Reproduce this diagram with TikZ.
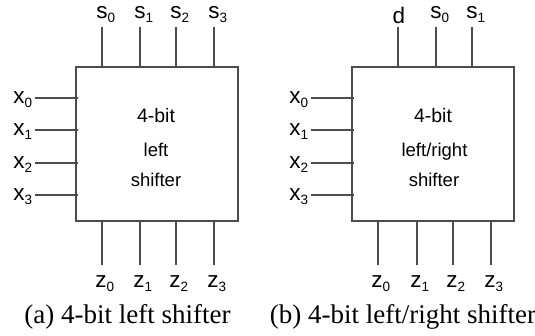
\documentclass[tikz,border=0pt]{standalone}
\usepackage{fontspec}
\setmainfont{Liberation Serif}
\newfontfamily\arialf{Liberation Sans}
\newcommand\sigl[2]{#1\rlap{\raisebox{-4pt}{\fontsize{13.5}{13.5}\selectfont #2}}}
\begin{document}
\begin{tikzpicture}[x=1pt,y=-1pt,
  wire/.style={draw=black!70,line width=1.1pt},
  blk/.style={draw=black!70,line width=1.1pt},
  lbl/.style={font=\arialf\fontsize{22.5}{22.5}\selectfont,inner sep=0pt,anchor=base},
  intext/.style={font=\arialf\fontsize{18.5}{18.5}\selectfont,inner sep=0pt,anchor=base},
  bigtext/.style={font=\arialf\fontsize{19.5}{19.5}\selectfont,inner sep=0pt,anchor=base},
  captext/.style={font=\fontsize{27}{27}\selectfont,inner sep=0pt,anchor=base}]
\useasboundingbox (0,0) rectangle (535,335);
% ---------- (a) ----------
\node[blk,minimum width=162pt,minimum height=154pt,inner sep=0pt] (A) at (157,144) {};
\node[bigtext] (A1) at (156,122.5) {4-bit};
\node[intext] (A2) at (156,156.5) {left};
\node[intext] (A3) at (156,186) {shifter};
\foreach \i/\xx in {0/102,1/140,2/176,3/214}{
  \coordinate (as\i) at (\xx,27);
  \coordinate (asb\i) at (\xx,67);
  \draw[wire] (as\i) -- (asb\i);
  \node[lbl] (asl\i) at (\xx,18) {\sigl{s}{\i}};
  \coordinate (az\i) at (\xx,265);
  \coordinate (azb\i) at (\xx,221);
  \draw[wire] (azb\i) -- (az\i);
  \node[lbl] (azl\i) at (\xx-1,287) {\sigl{z}{\i}};
}
\foreach \i/\yy in {0/98,1/130,2/163,3/195}{
  \coordinate (ax\i) at (35,\yy);
  \coordinate (axb\i) at (78,\yy);
  \draw[wire] (ax\i) -- (axb\i);
  \node[lbl] (axl\i) at (19,\yy+5.5) {\sigl{x}{\i}};
}
\node[captext] (capa) at (127.5,323) {(a) 4-bit left shifter};
% ---------- (b) ----------
\node[blk,minimum width=162pt,minimum height=154pt,inner sep=0pt] (B) at (433,144) {};
\node[bigtext] (B1) at (433,122.5) {4-bit};
\node[intext] (B2) at (434.5,156.5) {left/right};
\node[intext] (B3) at (434,186) {shifter};
\coordinate (bd) at (398,27);
\coordinate (bdb) at (398,67);
\draw[wire] (bd) -- (bdb);
\node[lbl] (bdl) at (399,23) {d};
\foreach \i/\xx in {0/436,1/472}{
  \coordinate (bs\i) at (\xx,27);
  \coordinate (bsb\i) at (\xx,67);
  \draw[wire] (bs\i) -- (bsb\i);
  \node[lbl] (bsl\i) at (\xx,18) {\sigl{s}{\i}};
}
\foreach \i/\xx in {0/378,1/417,2/453,3/491}{
  \coordinate (bz\i) at (\xx,265);
  \coordinate (bzb\i) at (\xx,221);
  \draw[wire] (bzb\i) -- (bz\i);
  \node[lbl] (bzl\i) at (\xx-1,287) {\sigl{z}{\i}};
}
\foreach \i/\yy in {0/98,1/130,2/163,3/195}{
  \coordinate (bx\i) at (311,\yy);
  \coordinate (bxb\i) at (354,\yy);
  \draw[wire] (bx\i) -- (bxb\i);
  \node[lbl] (bxl\i) at (295,\yy+5.5) {\sigl{x}{\i}};
}
\node[captext] (capb) at (403,323) {(b) 4-bit left/right shifter};
\end{tikzpicture}
\end{document}
